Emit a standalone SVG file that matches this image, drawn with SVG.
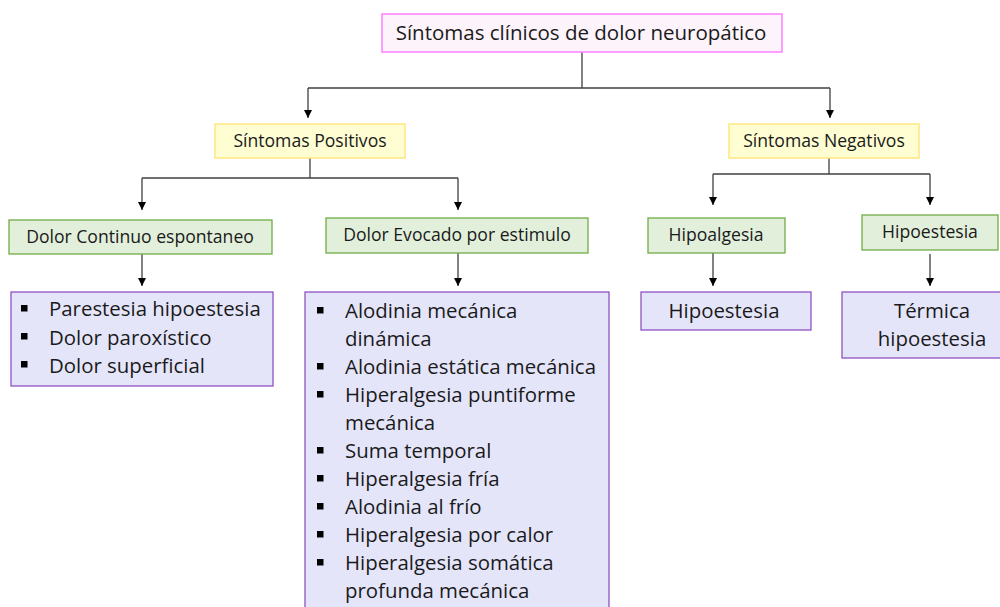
<svg xmlns="http://www.w3.org/2000/svg" width="1000" height="607" viewBox="0 0 1000 607">
<style>
text{font-family:"Open Sans","Liberation Sans",sans-serif;fill:#1a1a1a}
.pink{fill:#fdf3fb;stroke:#ff80ff;stroke-width:1.5}
.yel{fill:#fffdd2;stroke:#ffe680;stroke-width:1.5}
.grn{fill:#e2efda;stroke:#70ad47;stroke-width:1.3}
.pur{fill:#e5e5fa;stroke:#8f52c4;stroke-width:1.3}
.t19{font-size:20.5px}
.t16{font-size:17.6px}
.t20{font-size:20.4px}
.c{text-anchor:middle}
.ln{fill:none;stroke:#404040;stroke-width:1.3}
.arr{fill:none;stroke:#404040;stroke-width:1.3;marker-end:url(#ah)}
.b{fill:#000}
</style>
<defs>
<marker id="ah" viewBox="0 0 8 8" refX="8" refY="4" markerWidth="8" markerHeight="8" markerUnits="userSpaceOnUse" orient="auto">
<path d="M0,0 L8,4 L0,8 Z" fill="#000"/>
</marker>
</defs>
<g id="connectors">
<path class="ln" d="M582,52 V88 M308,88 H830"/>
<path class="arr" d="M308,88 V118"/>
<path class="arr" d="M830,88 V118"/>
<path class="ln" d="M310,158 V178 M142,178 H458"/>
<path class="arr" d="M142,178 V210"/>
<path class="arr" d="M458,178 V210"/>
<path class="ln" d="M829,158 V174 M713,174 H930"/>
<path class="arr" d="M713,174 V205"/>
<path class="arr" d="M930,174 V205"/>
<path class="arr" d="M142,254 V286"/>
<path class="arr" d="M458,253 V286"/>
<path class="arr" d="M713,253 V286"/>
<path class="arr" d="M930,254 V286"/>
</g>
<g id="root">
<rect class="pink" x="382" y="14" width="400" height="38"/>
<text class="t19 c" x="581" y="40">Síntomas clínicos de dolor neuropático</text>
</g>
<g id="positivos">
<rect class="yel" x="215" y="124" width="190" height="34"/>
<text class="t16 c" x="310" y="147">Síntomas Positivos</text>
</g>
<g id="negativos">
<rect class="yel" x="729" y="124" width="190" height="34"/>
<text class="t16 c" x="824" y="147">Síntomas Negativos</text>
</g>
<g id="continuo">
<rect class="grn" x="9" y="220" width="263" height="34"/>
<text class="t16 c" x="140" y="243">Dolor Continuo espontaneo</text>
</g>
<g id="evocado">
<rect class="grn" x="326" y="218" width="262" height="35"/>
<text class="t16 c" x="457" y="241">Dolor Evocado por estimulo</text>
</g>
<g id="hipoalgesia">
<rect class="grn" x="648" y="218" width="137" height="35"/>
<text class="t16 c" x="716" y="241">Hipoalgesia</text>
</g>
<g id="hipoestesia-neg">
<rect class="grn" x="862" y="215" width="136" height="35"/>
<text class="t16 c" x="930" y="238">Hipoestesia</text>
</g>
<g id="continuo-list">
<rect class="pur" x="11" y="292" width="262" height="94"/>
<rect class="b" x="21" y="305" width="6.5" height="6.5"/>
<rect class="b" x="21" y="333" width="6.5" height="6.5"/>
<rect class="b" x="21" y="361" width="6.5" height="6.5"/>
<text class="t20" x="49" y="316">Parestesia hipoestesia</text>
<text class="t20" x="49" y="345">Dolor paroxístico</text>
<text class="t20" x="49" y="373">Dolor superficial</text>
</g>
<g id="evocado-list">
<rect class="pur" x="305" y="292" width="304" height="330"/>
<rect class="b" x="317" y="307" width="6.5" height="6.5"/>
<rect class="b" x="317" y="363" width="6.5" height="6.5"/>
<rect class="b" x="317" y="391" width="6.5" height="6.5"/>
<rect class="b" x="317" y="447" width="6.5" height="6.5"/>
<rect class="b" x="317" y="475" width="6.5" height="6.5"/>
<rect class="b" x="317" y="503" width="6.5" height="6.5"/>
<rect class="b" x="317" y="531" width="6.5" height="6.5"/>
<rect class="b" x="317" y="559" width="6.5" height="6.5"/>
<text class="t20" x="345" y="318">Alodinia mecánica</text>
<text class="t20" x="345" y="346">dinámica</text>
<text class="t20" x="345" y="374">Alodinia estática mecánica</text>
<text class="t20" x="345" y="402">Hiperalgesia puntiforme</text>
<text class="t20" x="345" y="430">mecánica</text>
<text class="t20" x="345" y="458">Suma temporal</text>
<text class="t20" x="345" y="486">Hiperalgesia fría</text>
<text class="t20" x="345" y="514">Alodinia al frío</text>
<text class="t20" x="345" y="542">Hiperalgesia por calor</text>
<text class="t20" x="345" y="570">Hiperalgesia somática</text>
<text class="t20" x="345" y="598">profunda mecánica</text>
</g>
<g id="hipoestesia-list">
<rect class="pur" x="641" y="292" width="170" height="38"/>
<text class="t20 c" x="724" y="318">Hipoestesia</text>
</g>
<g id="termica-list">
<rect class="pur" x="842" y="292" width="160" height="66"/>
<text class="t20 c" x="932" y="318">Térmica</text>
<text class="t20 c" x="932" y="346">hipoestesia</text>
</g>
</svg>
